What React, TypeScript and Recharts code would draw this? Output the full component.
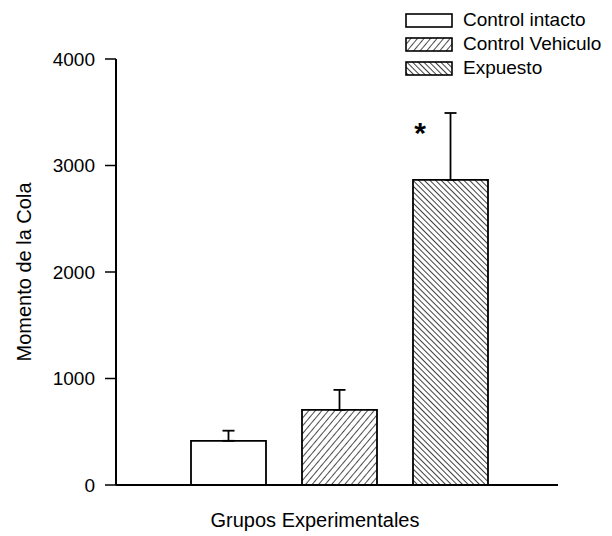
import { BarChart, Bar, XAxis, YAxis, ErrorBar, Cell, Legend, LabelList, Label } from "recharts"

const groups = ["Control intacto", "Control Vehiculo", "Expuesto"]
const means = [415, 705, 2865]
const errors = [95, 188, 628]
const marks = ["", "", "*"]
const yTicks = [0, 1000, 2000, 3000, 4000]

const fills = ["#ffffff", "url(#hatchFwd)", "url(#hatchBack)"]
const font = '"Liberation Sans", Arial, sans-serif'

const data = groups.map((g, i) => ({
    group: g,
    mean: means[i],
    err: [0, errors[i]],
    mark: marks[i],
}))

const renderLegend = () => (
    <div style={{ fontFamily: font, fontSize: 19, color: "#000" }}>
        {groups.map((g, i) => (
            <div key={g} style={{ display: "flex", alignItems: "center", height: 24 }}>
                <svg width={48} height={15} style={{ marginRight: 10 }}>
                    <rect x={1} y={1} width={46} height={13} fill={fills[i]} stroke="#000" strokeWidth={1.6} />
                </svg>
                <span>{g}</span>
            </div>
        ))}
    </div>
)

export default function App() {
    return (
        <div style={{ position: "absolute", left: 0, top: 0, background: "#fff" }}>
            <BarChart
                width={612}
                height={536}
                data={data}
                margin={{ top: 59, right: 54, bottom: 0, left: 0 }}
            >
                <defs>
                    <pattern id="hatchFwd" patternUnits="userSpaceOnUse" width={5} height={5} patternTransform="rotate(40)">
                        <line x1={0} y1={0} x2={0} y2={5} stroke="#000" strokeWidth={1.4} />
                    </pattern>
                    <pattern id="hatchBack" patternUnits="userSpaceOnUse" width={4} height={4} patternTransform="rotate(-45)">
                        <line x1={0} y1={0} x2={0} y2={4} stroke="#000" strokeWidth={1.5} />
                    </pattern>
                </defs>
                <XAxis
                    dataKey="group"
                    height={51}
                    tick={false}
                    tickLine={false}
                    axisLine={{ stroke: "#000", strokeWidth: 1.8 }}
                    padding={{ left: 57, right: 52 }}
                >
                    <Label
                        content={({ viewBox }: any) => (
                            <text
                                x={viewBox.x + 199}
                                y={viewBox.y + 42}
                                textAnchor="middle"
                                fontFamily={font}
                                fontSize={20}
                                fill="#000"
                            >
                                Grupos Experimentales
                            </text>
                        )}
                    />
                </XAxis>
                <YAxis
                    width={116}
                    domain={[0, 4000]}
                    ticks={yTicks}
                    interval={0}
                    tickSize={11}
                    tickMargin={10}
                    tick={{ fill: "#000", fontFamily: font, fontSize: 19 }}
                    tickLine={{ stroke: "#000", strokeWidth: 1.5 }}
                    axisLine={{ stroke: "#000", strokeWidth: 2 }}
                >
                    <Label
                        content={({ viewBox }: any) => {
                            const cx = viewBox.x + 24
                            const cy = viewBox.y + viewBox.height / 2
                            return (
                                <text
                                    x={cx}
                                    y={cy}
                                    transform={`rotate(-90 ${cx} ${cy})`}
                                    textAnchor="middle"
                                    dominantBaseline="central"
                                    fontFamily={font}
                                    fontSize={20}
                                    fill="#000"
                                >
                                    Momento de la Cola
                                </text>
                            )
                        }}
                    />
                </YAxis>
                <Legend
                    layout="vertical"
                    align="center"
                    verticalAlign="middle"
                    content={renderLegend}
                    wrapperStyle={{ top: 8, left: 405, width: 207 }}
                />
                <Bar dataKey="mean" barSize={75} stroke="#000" strokeWidth={1.8} isAnimationActive={false}>
                    {data.map((d, i) => (
                        <Cell key={d.group} fill={fills[i]} />
                    ))}
                    <ErrorBar dataKey="err" width={6} stroke="#000" strokeWidth={1.8} direction="y" />
                    <LabelList
                        dataKey="mark"
                        content={(p: any) =>
                            p.value ? (
                                <text
                                    x={p.x + 7}
                                    y={p.y - 37}
                                    textAnchor="middle"
                                    fontFamily={font}
                                    fontSize={30}
                                    fontWeight="bold"
                                    fill="#000"
                                >
                                    {p.value}
                                </text>
                            ) : null
                        }
                    />
                </Bar>
            </BarChart>
        </div>
    )
}
